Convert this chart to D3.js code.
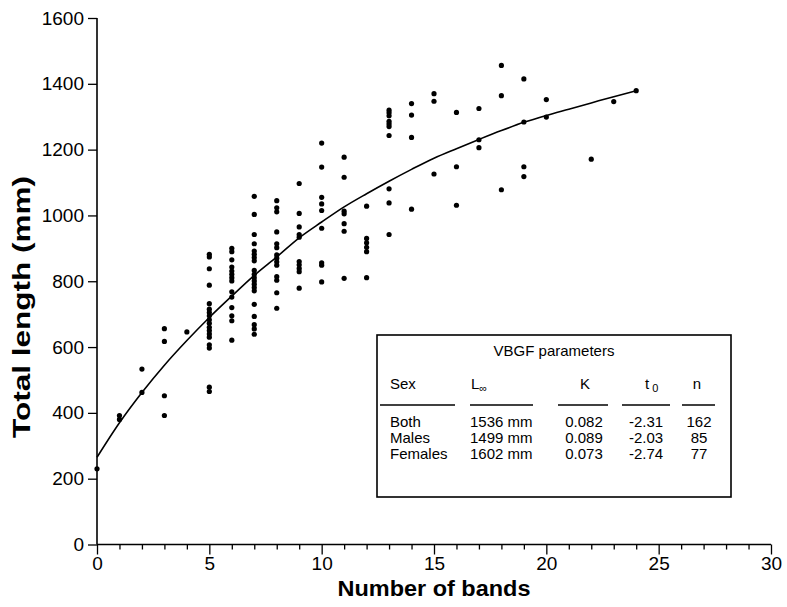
<!DOCTYPE html>
<html>
<head>
<meta charset="utf-8">
<script src="https://cdn.jsdelivr.net/npm/d3@7"></script>
<style>
  html, body { margin: 0; padding: 0; background: #fff; }
  svg { display: block; }
  text { font-family: "Liberation Sans", Arial, Helvetica, sans-serif; fill: #000; }
</style>
</head>
<body>
<svg id="chart" width="787" height="607"></svg>
<script>
// ---------- data ----------
const bandCounts = [0, 1, 2, 3, 4, 5, 6, 7, 8, 9, 10, 11, 12, 13, 14, 15, 16, 17, 18, 19, 20, 22, 23, 24];
const lengthsAtBand = [
  [230],
  [392, 380],
  [533, 462],
  [656, 617, 452, 392],
  [646],
  [882, 874, 838, 788, 732, 715, 705, 695, 683, 672, 660, 650, 640, 630, 607, 597, 478, 465],
  [900, 890, 865, 843, 831, 821, 811, 801, 768, 752, 720, 695, 680, 621],
  [1058, 1003, 942, 914, 892, 882, 872, 862, 833, 821, 811, 801, 791, 781, 771, 730, 693, 668, 655, 639],
  [1045, 1023, 1011, 950, 914, 902, 880, 870, 859, 849, 814, 803, 765, 718],
  [1097, 1006, 965, 942, 934, 860, 850, 839, 829, 779],
  [1220, 1147, 1055, 1035, 1015, 961, 856, 849, 798],
  [1177, 1116, 1013, 1005, 975, 952, 809],
  [1028, 930, 917, 903, 890, 811],
  [1320, 1312, 1303, 1286, 1278, 1270, 1243, 1081, 1038, 942],
  [1340, 1305, 1237, 1019],
  [1370, 1347, 1126],
  [1313, 1148, 1031],
  [1325, 1230, 1206],
  [1456, 1364, 1078],
  [1415, 1284, 1148, 1118],
  [1352, 1299],
  [1171],
  [1346],
  [1379]
];
// fitted growth curve
const curveBands   = [0, 1, 2, 3, 4, 5, 6, 7, 8, 9, 10, 11, 12, 13, 14, 15, 16, 17, 18, 19, 20, 21, 22, 23, 24];
const curveLengths = [265, 370, 462, 545, 620, 690, 755, 818, 874, 932, 980, 1026, 1066, 1104, 1140, 1174, 1203, 1231, 1258, 1283, 1304, 1323, 1342, 1361, 1379];

const xTicks = [0, 5, 10, 15, 20, 25, 30];
const yTicks = [0, 200, 400, 600, 800, 1000, 1200, 1400, 1600];

// legend table
const tableTitle = "VBGF parameters";
const tableSex   = ["Both", "Males", "Females"];
const tableLinf  = ["1536 mm", "1499 mm", "1602 mm"];
const tableK     = ["0.082", "0.089", "0.073"];
const tableT0    = ["-2.31", "-2.03", "-2.74"];
const tableN     = ["162", "85", "77"];

// ---------- drawing ----------
const svg = d3.select("#chart");
const x = d3.scaleLinear().domain([0, 30]).range([97, 771]);
const y = d3.scaleLinear().domain([0, 1600]).range([544.5, 18]);

// axes
const xAxis = d3.axisBottom(x)
  .tickValues(d3.range(0, 31))
  .tickSize(5)
  .tickPadding(5)
  .tickFormat(d => (xTicks.includes(d) ? String(d) : ""));
const gx = svg.append("g").attr("transform", `translate(0,${y(0)})`).call(xAxis);
gx.selectAll(".tick line").attr("y2", d => (xTicks.includes(d) ? 10 : 5)).attr("stroke-width", 1.3);
gx.selectAll(".tick text").attr("dy", "0.82em");
gx.select(".domain").attr("stroke-width", 1.6).attr("d", `M${x(0)},0H${x(30)}`);

const yAxis = d3.axisLeft(y).tickValues(yTicks).tickSize(9).tickPadding(4).tickFormat(d3.format("d"));
const gy = svg.append("g").attr("transform", `translate(${x(0)},0)`).call(yAxis);
gy.select(".domain").attr("stroke-width", 1.6).attr("d", `M0,${y(0)}V${y(1600)}`);
gy.selectAll(".tick line").attr("stroke-width", 1.3);

svg.selectAll(".tick text")
  .style("font-size", "19px")
  .style("font-family", '"Liberation Sans", Arial, Helvetica, sans-serif')
  .attr("fill", "#000");

// axis titles
svg.append("text")
  .attr("x", 434).attr("y", 596)
  .attr("text-anchor", "middle")
  .attr("textLength", 193).attr("lengthAdjust", "spacingAndGlyphs")
  .style("font-size", "22px").style("font-weight", "bold")
  .text("Number of bands");
svg.append("text")
  .attr("transform", `translate(30,307) rotate(-90)`)
  .attr("text-anchor", "middle")
  .attr("textLength", 262).attr("lengthAdjust", "spacingAndGlyphs")
  .style("font-size", "24px").style("font-weight", "bold")
  .text("Total length (mm)");

// points
const pts = [];
bandCounts.forEach((b, i) => lengthsAtBand[i].forEach(v => pts.push([b, v])));
svg.append("g").selectAll("circle").data(pts).join("circle")
  .attr("cx", d => x(d[0])).attr("cy", d => y(d[1]))
  .attr("r", 2.6).attr("fill", "#000");

// curve
const line = d3.line().x((d, i) => x(curveBands[i])).y(d => y(d)).curve(d3.curveMonotoneX);
svg.append("path").datum(curveLengths)
  .attr("d", line).attr("fill", "none").attr("stroke", "#000").attr("stroke-width", 1.6);

// legend box
const lg = svg.append("g");
lg.append("rect").attr("x", 377).attr("y", 335).attr("width", 354).attr("height", 162)
  .attr("fill", "#fff").attr("stroke", "#000").attr("stroke-width", 1.6);
lg.append("text").attr("x", 554).attr("y", 356).attr("text-anchor", "middle")
  .style("font-size", "15px").text(tableTitle);

const hdrY = 389, ruleY = 405, rowY0 = 427, rowDy = 16;
const cols = [
  {x1: 380, x2: 455, anchor: "start", vals: tableSex, vx: 390},
  {x1: 470, x2: 533, anchor: "start", vals: tableLinf, vx: 470},
  {x1: 558, x2: 608, anchor: "middle", vals: tableK, vx: 584},
  {x1: 622, x2: 670, anchor: "middle", vals: tableT0, vx: 646},
  {x1: 682, x2: 715, anchor: "middle", vals: tableN, vx: 699}
];
cols.forEach(c => {
  lg.append("line").attr("x1", c.x1).attr("x2", c.x2).attr("y1", ruleY).attr("y2", ruleY)
    .attr("stroke", "#000").attr("stroke-width", 1.6);
  lg.selectAll(null).data(c.vals).join("text")
    .attr("x", c.vx).attr("y", (d, i) => rowY0 + i * rowDy)
    .attr("text-anchor", c.anchor)
    .style("font-size", "15px").text(d => d);
});
// headers
lg.append("text").attr("x", 390).attr("y", hdrY).style("font-size", "15px").text("Sex");
const linf = lg.append("text").attr("x", 471).attr("y", hdrY).style("font-size", "15px");
linf.append("tspan").text("L");
linf.append("tspan").attr("dy", 3).style("font-size", "11px").text("∞");
lg.append("text").attr("x", 585).attr("y", hdrY).attr("text-anchor", "middle").style("font-size", "15px").text("K");
const t0 = lg.append("text").attr("x", 645).attr("y", hdrY).attr("text-anchor", "start").style("font-size", "15px");
t0.append("tspan").text("t");
t0.append("tspan").attr("dx", 3).attr("dy", 3).style("font-size", "11px").text("0");
lg.append("text").attr("x", 697).attr("y", hdrY).attr("text-anchor", "middle").style("font-size", "15px").text("n");
</script>
</body>
</html>
